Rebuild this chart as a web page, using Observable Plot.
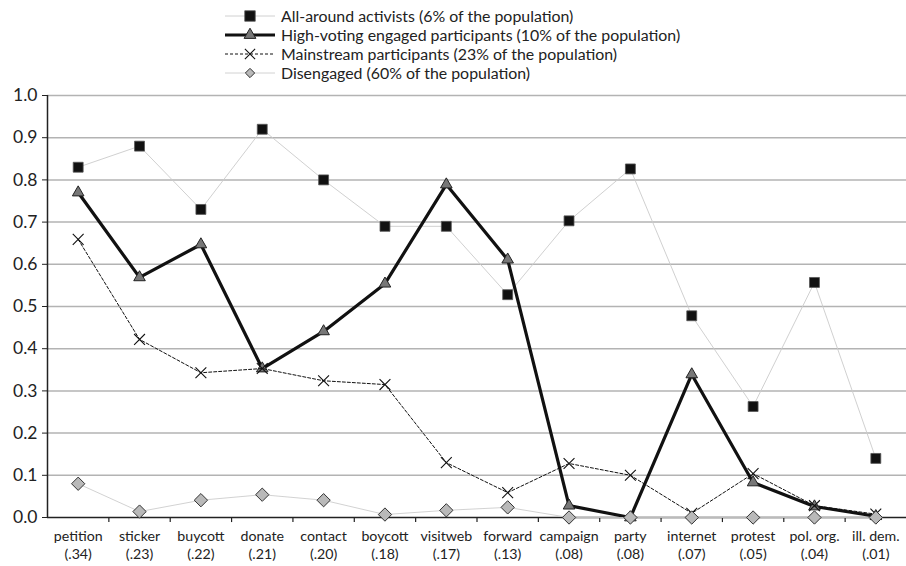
<!DOCTYPE html>
<html><head><meta charset="utf-8">
<script src="https://cdn.jsdelivr.net/npm/d3@7"></script>
<script src="https://cdn.jsdelivr.net/npm/@observablehq/plot@0.6"></script>
<style>
body{margin:0;background:#fff;}
#wrap{position:relative;width:906px;height:566px;font-family:Lato,"Open Sans",sans-serif;}
#legend{position:absolute;left:0;top:0;}
</style></head><body><div id="wrap"></div>
<script>
const categories = ["petition","sticker","buycott","donate","contact","boycott","visitweb","forward","campaign","party","internet","protest","pol. org.","ill. dem."];
const shares = [".34",".23",".22",".21",".20",".18",".17",".13",".08",".08",".07",".05",".04",".01"];
const seriesNames = [
  "All-around activists (6% of the population)",
  "High-voting engaged participants (10% of the population)",
  "Mainstream participants (23% of the population)",
  "Disengaged (60% of the population)"
];
const allAround   = [0.83, 0.88, 0.73, 0.92, 0.80, 0.69, 0.69, 0.528, 0.703, 0.826, 0.478, 0.263, 0.557, 0.14];
const highVoting  = [0.77, 0.569, 0.647, 0.353, 0.441, 0.554, 0.789, 0.611, 0.028, 0.0, 0.339, 0.083, 0.026, 0.003];
const mainstream  = [0.659, 0.422, 0.343, 0.353, 0.324, 0.315, 0.13, 0.059, 0.128, 0.10, 0.01, 0.104, 0.028, 0.008];
const disengaged  = [0.08, 0.014, 0.041, 0.054, 0.041, 0.007, 0.017, 0.024, 0.0, 0.0, 0.0, 0.0, 0.0, 0.0];
const yTicks = [0,0.1,0.2,0.3,0.4,0.5,0.6,0.7,0.8,0.9,1.0];

const styles = [
  {line:{stroke:"#cbcbcb", strokeWidth:0.9}, dot:{symbol:"square", r:5.6, fill:"#111", stroke:"#555", strokeWidth:0.8}},
  {line:{stroke:"#111", strokeWidth:3.2}, dot:{symbol:"triangle", r:4.3, fill:"#777", stroke:"#222", strokeWidth:1}},
  {line:{stroke:"#111", strokeWidth:1, strokeDasharray:"3,2"}, dot:{symbol:"times", r:5, fill:"none", stroke:"#111", strokeWidth:1.1}},
  {line:{stroke:"#cdcdcd", strokeWidth:0.9}, dot:{symbol:"diamond2", r:6, fill:"#b9b9b9", stroke:"#333", strokeWidth:1}}
];
const seriesValues = [allAround, highVoting, mainstream, disengaged];
const idx = categories.map((_, i) => i);
const xDomain = [-0.5, categories.length - 0.5];
const bounds = categories.map((_, i) => i + 0.5).slice(0, -1);

const seriesMarks = [];
seriesValues.forEach((vals, s) => {
  const rows = vals.map((v, i) => ({i, v}));
  seriesMarks.push(Plot.line(rows, {x:"i", y:"v", ...styles[s].line}));
  seriesMarks.push(Plot.dot(rows, {x:"i", y:"v", ...styles[s].dot}));
});

const chart = Plot.plot({
  width:906, height:566, marginTop:95, marginBottom:49, marginLeft:47, marginRight:0,
  x:{type:"linear", domain:xDomain},
  y:{domain:[0,1]},
  style:{fontFamily:"Lato, 'Open Sans', sans-serif", color:"#222", background:"#fff", overflow:"visible"},
  marks:[
    Plot.ruleY(yTicks.filter(d => d > 0), {stroke:"#b3b3b3", strokeWidth:1.5}),
    Plot.axisY({ticks:yTicks, tickFormat:d3.format(".1f"), tickSize:5, tickPadding:5, fontSize:17.5, stroke:"#222", label:null}),
    Plot.axisX({ticks:idx, tickFormat:i => categories[i] + "\n(" + shares[i] + ")", tickSize:0, tickPadding:10, fontSize:14.2, lineHeight:1.3, label:null}),
    Plot.ruleX(bounds, {y1:0, y2:-0.012, stroke:"#222", strokeWidth:1.2}),
    Plot.ruleX([xDomain[0]], {y1:0, y2:1, stroke:"#222", strokeWidth:1.5}),
    Plot.ruleY([0], {stroke:"#222", strokeWidth:1.5}),
    ...seriesMarks
  ]
});
const wrap = document.getElementById("wrap");
wrap.appendChild(chart);

// Legend
const lg = d3.select(wrap).append("svg").attr("id","legend").attr("width",906).attr("height",90);
const rowY = [16, 35, 54, 73];
const legendSym = [
  {type:d3.symbolSquare, size:110},
  {type:d3.symbolTriangle, size:60},
  {type:d3.symbolTimes, size:70},
  {type:d3.symbolDiamond2, size:55}
];
seriesNames.forEach((name, s) => {
  const g = lg.append("g").attr("transform", `translate(0,${rowY[s]})`);
  const ls = styles[s].line, ds = styles[s].dot;
  g.append("line").attr("x1",225).attr("x2",275).attr("y1",0).attr("y2",0)
    .attr("stroke", ls.stroke).attr("stroke-width", ls.strokeWidth)
    .attr("stroke-dasharray", ls.strokeDasharray || null);
  g.append("path").attr("transform","translate(250,0)")
    .attr("d", d3.symbol(legendSym[s].type, legendSym[s].size)())
    .attr("fill", ds.fill).attr("stroke", ds.stroke).attr("stroke-width", ds.strokeWidth);
  g.append("text").attr("x",281).attr("y",0).attr("dy","0.35em")
    .attr("font-size",15.9).attr("fill","#222")
    .attr("font-family","Lato, 'Open Sans', sans-serif").text(name);
});
</script></body></html>
